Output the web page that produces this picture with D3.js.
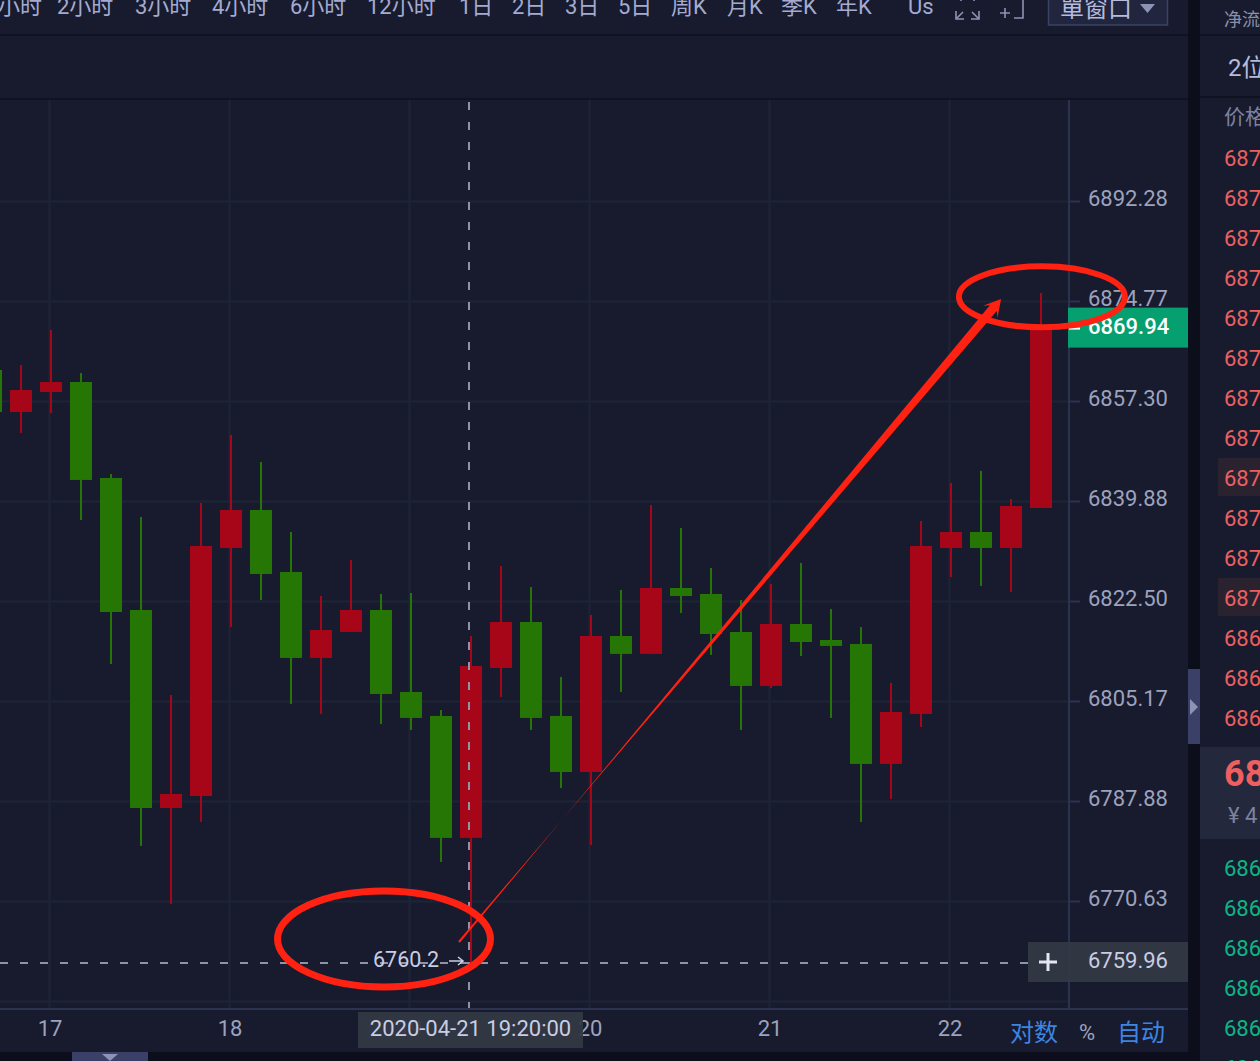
<!doctype html>
<html lang="zh-CN">
<head>
<meta charset="utf-8">
<title>K线</title>
<script src="https://cdnjs.cloudflare.com/ajax/libs/d3/7.8.5/d3.min.js"></script>
<style>
  html, body { margin: 0; padding: 0; background: #0c0f1b; overflow: hidden; }
  svg { display: block; }
  text { font-family: Roboto, "Noto Sans CJK SC", sans-serif; }
</style>
</head>
<body>
<svg id="chart" width="1260" height="1061"></svg>
<script>
// candles, 10 minute bars, first one is cut off by the left edge
var opens  = [6862.72,6855.38,6858.87,6860.62,6843.89,6820.94,6786.67,6788.74,6831.71,6838.32,6827.54,6812.62,6817.13,6820.94,6806.73,6802.58,6781.50,6810.89,6818.86,6802.58,6792.89,6816.43,6813.32,6824.76,6823.72,6817.13,6807.77,6818.51,6815.74,6815.05,6794.28,6802.92,6831.71,6834.49,6831.71,6838.66];
var closes = [6855.38,6859.22,6860.62,6843.54,6820.59,6786.67,6789.09,6832.06,6838.32,6827.19,6812.62,6817.47,6820.94,6806.38,6802.23,6781.50,6811.24,6818.86,6802.23,6792.89,6816.43,6813.32,6824.76,6823.37,6816.78,6807.77,6818.51,6815.39,6814.70,6794.28,6803.27,6832.06,6834.49,6831.71,6839.01,6869.94];
var highs  = [6863.59,6863.59,6869.70,6862.19,6844.58,6837.10,6806.21,6839.53,6851.38,6846.67,6834.49,6823.37,6829.63,6823.72,6823.89,6803.61,6816.43,6828.58,6824.93,6809.33,6820.07,6824.41,6839.18,6835.19,6828.24,6822.67,6825.45,6829.10,6821.11,6817.99,6808.29,6836.40,6843.02,6845.11,6840.23,6876.17];
var lows   = [6853.00,6851.73,6855.21,6836.58,6811.58,6780.12,6770.11,6784.26,6817.99,6822.67,6804.65,6802.92,6817.13,6801.19,6800.16,6777.36,6759.97,6805.86,6800.16,6790.13,6780.29,6806.73,6813.32,6820.42,6813.14,6800.16,6807.42,6812.97,6802.23,6784.26,6788.23,6800.67,6826.67,6825.11,6824.06,6838.66];

var priceTicks = [6892.28,6874.77,6857.30,6839.88,6822.50,6805.17,6787.88,6770.63];
var gridOnlyTicks = [6753.43];
var hourIndex = [2,8,14,20,26,32];
var hourLabels = ["17","18","19","20","21","22"];

var lastPrice = 6869.94;
var crossIndex = 16;
var crossPrice = 6759.96;
var crossTime = "2020-04-21 19:20:00";
var lowLabel = "6760.2";

var tabLabels = ["小时","2小时","3小时","4小时","6小时","12小时","1日","2日","3日","5日","周K","月K","季K","年K","Us"];
var tabLefts = [-2,57,135,212,290,367,459,512,565,618,671,727,781,836,908];
var askRows = ["687","687","687","687","687","687","687","687","687","687","687","687","686","686","686"];
var bidRows = ["686","686","686","686","686","686"];

var bg = "#171b2d", gutter = "#0c0f1b", gridCol = "#1e2436", axisCol = "#2b3350";
var upCol = "#a70618", downCol = "#267605", ink = "#ff2212";
var labelCol = "#9da2bd", lightCol = "#c9cde2", boxCol = "#333845", handleCol = "#3a4068";

var svg = d3.select("#chart");

var x = d3.scaleLinear().domain([0, 35]).range([-9, 1041]);
var y = d3.scaleLog().domain([6770.63, 6892.28]).range([901, 201]);

function box(g, x0, y0, w, h, fill) {
  return g.append("rect").attr("x", x0).attr("y", y0).attr("width", w).attr("height", h).attr("fill", fill);
}

// panels
box(svg, 0, 0, 1260, 1061, gutter);
box(svg, 0, 0, 1188, 1052, bg);
box(svg, 1200, 0, 60, 1061, bg);
box(svg, 0, 34, 1188, 2, "#0f1220");
box(svg, 0, 98, 1188, 2, "#0f1220");
box(svg, 1200, 34, 60, 2, "#0f1220");
box(svg, 1200, 96, 60, 2, "#0f1220");

// top tabs, cut off by the window
svg.append("g").selectAll("text").data(tabLabels).join("text")
  .attr("x", function(d, i) { return tabLefts[i]; })
  .attr("y", 14)
  .attr("font-size", 22)
  .attr("fill", "#a3abd2")
  .text(function(d) { return d; });

var icons = svg.append("g").attr("fill", "none").attr("stroke", "#8d93b4").attr("stroke-width", 1.6);
icons.append("path").attr("d", "M956 11V19H964 M957 18L963 12 M979 11V19H971 M978 18L972 12 M961 0V1 M974 0V1");
icons.append("path").attr("d", "M1000 13H1010 M1005 8V18 M1014 18H1023V0");

box(svg, 1048.5, -4, 119, 29, "#21263e").attr("stroke", "#3a4366").attr("stroke-width", 1.5);
svg.append("text").attr("x", 1060).attr("y", 17).attr("font-size", 24).attr("fill", "#b4bbdc").text("單窗口");
svg.append("path").attr("d", "M1140 4H1155L1147.5 13Z").attr("fill", "#8d93b4");

// grid from the same scales as the candles
var gridY = d3.axisRight(y).tickValues(priceTicks.concat(gridOnlyTicks)).tickSize(1069).tickFormat("");
var gy = svg.append("g").call(gridY);
gy.select(".domain").remove();
gy.selectAll("line").attr("stroke", gridCol).attr("stroke-width", 2);

var gridX = d3.axisBottom(x).tickValues(hourIndex).tickSize(908).tickFormat("");
var gx = svg.append("g").attr("transform", "translate(-2,100)").call(gridX);
gx.select(".domain").remove();
gx.selectAll("line").attr("stroke", gridCol).attr("stroke-width", 2);

// candles
var candles = svg.append("g").selectAll("g").data(d3.range(opens.length)).join("g");
candles.append("rect")
  .attr("x", function(i) { return x(i) - 1; })
  .attr("y", function(i) { return y(highs[i]); })
  .attr("width", 2)
  .attr("height", function(i) { return y(lows[i]) - y(highs[i]); })
  .attr("fill", function(i) { return closes[i] > opens[i] ? upCol : downCol; });
candles.append("rect")
  .attr("x", function(i) { return x(i) - 11; })
  .attr("y", function(i) { return y(Math.max(opens[i], closes[i])); })
  .attr("width", 22)
  .attr("height", function(i) { return Math.abs(y(opens[i]) - y(closes[i])); })
  .attr("fill", function(i) { return closes[i] > opens[i] ? upCol : downCol; });

// axes
box(svg, 1068, 100, 2, 909, axisCol);
box(svg, 0, 1008, 1188, 2, axisCol);

var rightAxis = d3.axisRight(y).tickValues(priceTicks).tickSize(11).tickPadding(8).tickFormat(d3.format(".2f"));
var ra = svg.append("g").attr("transform", "translate(1069,0)").call(rightAxis);
ra.select(".domain").remove();
ra.selectAll("line").attr("stroke", axisCol).attr("stroke-width", 2);
ra.selectAll("text").attr("font-size", 22).attr("fill", labelCol).attr("font-family", "Roboto").attr("dy", "0.19em");

var bottomAxis = d3.axisBottom(x).tickValues(hourIndex).tickSize(0).tickPadding(7)
  .tickFormat(function(d, i) { return hourLabels[i]; });
var ba = svg.append("g").attr("transform", "translate(-1.5,1013)").call(bottomAxis);
ba.select(".domain").remove();
ba.selectAll("text").attr("font-size", 22).attr("fill", labelCol).attr("font-family", "Roboto").attr("dy", "0.72em");

// crosshair
var dash = "8 12";
svg.append("line").attr("x1", x(crossIndex) - 2).attr("x2", x(crossIndex) - 2).attr("y1", 102).attr("y2", 1008)
  .attr("stroke", "#8e93a6").attr("stroke-width", 2).attr("stroke-dasharray", dash);
svg.append("line").attr("x1", 0).attr("x2", 1028).attr("y1", y(crossPrice)).attr("y2", y(crossPrice))
  .attr("stroke", "#8e93a6").attr("stroke-width", 2).attr("stroke-dasharray", dash);

box(svg, 1028, y(crossPrice) - 21, 160, 40, boxCol).attr("fill-opacity", 0.94);
svg.append("path").attr("d", "M1039 962H1057 M1048 953V971").attr("stroke", "#e4e6f2").attr("stroke-width", 3);
svg.append("text").attr("x", 1088).attr("y", 968).attr("font-size", 22).attr("fill", lightCol).text(crossPrice.toFixed(2));

box(svg, 358, 1012, 225, 36, boxCol).attr("fill-opacity", 0.94);
svg.append("text").attr("x", x(crossIndex) - 0.5).attr("y", 1036).attr("text-anchor", "middle")
  .attr("font-size", 22).attr("fill", lightCol).text(crossTime);

// low marker
svg.append("text").attr("x", 373).attr("y", 967).attr("font-size", 21.5).attr("fill", lightCol).text(lowLabel);
svg.append("path").attr("d", "M449 961H463 M458 957L463 961L458 965").attr("fill", "none").attr("stroke", lightCol).attr("stroke-width", 1.6);

// last price flag
box(svg, 1068, y(lastPrice) - 21, 120, 40, "#06a070");
box(svg, 1069, y(lastPrice) - 1, 11, 2, "#ffffff");
svg.append("text").attr("x", 1088).attr("y", y(lastPrice) + 5).attr("font-size", 22).attr("font-weight", 500)
  .attr("fill", "#ffffff").text(lastPrice.toFixed(2));

// scale buttons
svg.append("text").attr("x", 1010).attr("y", 1041).attr("font-size", 24).attr("fill", "#3d85e2").text("对数");
svg.append("text").attr("x", 1079).attr("y", 1040).attr("font-size", 22).attr("fill", labelCol).text("%");
svg.append("text").attr("x", 1117).attr("y", 1041).attr("font-size", 24).attr("fill", "#3d85e2").text("自动");

// bottom and side handles
box(svg, 72, 1052, 76, 9, handleCol);
svg.append("path").attr("d", "M102 1054H118L110 1061Z").attr("fill", "#8d93b4");
box(svg, 1188, 669, 12, 75, handleCol);
svg.append("path").attr("d", "M1190 699L1198 707L1190 715Z").attr("fill", "#8d93b4");

// order book, cut by the right edge
svg.append("text").attr("x", 1224).attr("y", 26).attr("font-size", 18).attr("fill", "#8a90ac").text("净流");
svg.append("text").attr("x", 1228).attr("y", 76).attr("font-size", 24).attr("fill", "#b4bbdc").text("2位");
svg.append("text").attr("x", 1224).attr("y", 124).attr("font-size", 21).attr("fill", "#7c82a0").text("价格");

box(svg, 1218, 458, 42, 38, "#2b2230");
box(svg, 1218, 578, 42, 38, "#2b2230");
svg.append("g").selectAll("text").data(askRows).join("text")
  .attr("x", 1224).attr("y", function(d, i) { return 166 + i * 40; })
  .attr("font-size", 22).attr("fill", "#ea6060").text(function(d) { return d; });

box(svg, 1200, 747, 60, 92, "#23283c");
svg.append("text").attr("x", 1224).attr("y", 786).attr("font-size", 36).attr("font-weight", 700).attr("fill", "#ef5f5f").text("68");
svg.append("text").attr("x", 1228).attr("y", 823).attr("font-size", 22).attr("fill", "#7c82a0").text("¥ 4");

svg.append("g").selectAll("text").data(bidRows).join("text")
  .attr("x", 1224).attr("y", function(d, i) { return 876 + i * 40; })
  .attr("font-size", 22).attr("fill", "#0fb585").text(function(d) { return d; });

// hand drawn red notes on top of the screenshot, anchored on the price scale
var noteLow = { i: 13.1, price: 6764.09 };
var noteHigh = { i: 35.03, price: 6875.5 };
var arrowFrom = { i: 15.6, price: 6763.58 };
var arrowTo = { i: 33.67, price: 6875.12 };

var notes = svg.append("g");
notes.append("ellipse").attr("cx", x(noteLow.i)).attr("cy", y(noteLow.price)).attr("rx", 106.5).attr("ry", 48)
  .attr("fill", "none").attr("stroke", ink).attr("stroke-width", 7);
notes.append("ellipse").attr("cx", x(noteHigh.i)).attr("cy", y(noteHigh.price)).attr("rx", 83).attr("ry", 30.5)
  .attr("fill", "none").attr("stroke", ink).attr("stroke-width", 6);

var ax = x(arrowFrom.i), ay = y(arrowFrom.price), tx = x(arrowTo.i), ty = y(arrowTo.price);
var len = Math.hypot(tx - ax, ty - ay);
var ux = (tx - ax) / len, uy = (ty - ay) / len;
function off(along, side) {
  return [tx - ux * along - uy * side, ty - uy * along + ux * side];
}
var startA = [ax + uy * 1.1, ay - ux * 1.1], startB = [ax - uy * 1.1, ay + ux * 1.1];
notes.append("path")
  .attr("d", d3.line()([startA, off(12, 4.5), off(17, 9.5), off(0, 0), off(17, -9.5), off(12, -4.5), startB]) + "Z")
  .attr("fill", ink);
</script>
</body>
</html>
